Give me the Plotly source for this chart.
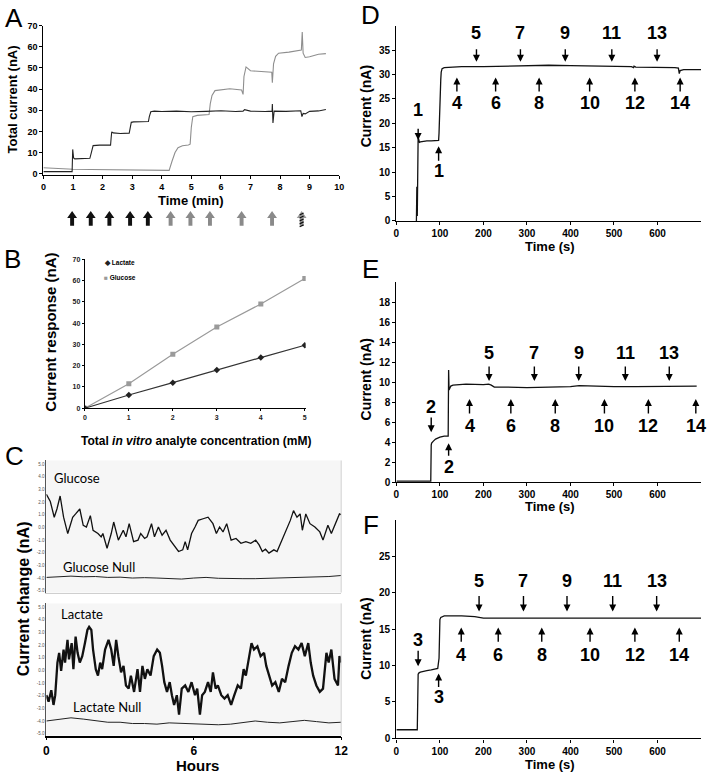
import plotly.graph_objects as go

W, H = 711, 778
def X(px): return px / W
def Y(py): return 1 - py / H

ARIAL = "Liberation Sans, Arial"
BLACK = "#111111"
GRAY = "#8e8e8e"

# ---------------- Panel A data ----------------
a_lac_t = [0, 0.5, 0.97, 0.99, 1.0, 1.02, 1.06, 1.2, 1.4, 1.57, 1.62, 1.68, 1.9, 2.1, 2.27, 2.29, 2.31, 2.36, 2.6, 2.9, 2.93, 2.97, 3.05, 3.3, 3.55, 3.58, 3.63, 3.75, 4.0, 4.5, 5.0, 5.5, 6.0, 6.5, 6.75, 6.8, 7.0, 7.5, 7.73, 7.74, 7.76, 7.8, 8.2, 8.7, 8.74, 8.78, 8.85, 9.0, 9.3, 9.55]
a_lac_v = [1.0, 1.0, 1.0, 11.5, 9, 7.5, 7.0, 7.0, 7.2, 7.3, 10, 13.3, 13.5, 13.4, 13.5, 17, 19.8, 19.3, 19.0, 19.2, 22, 24.3, 24.5, 24.6, 24.7, 27, 29.3, 29.6, 29.4, 29.6, 29.3, 29.5, 29.8, 29.4, 29.6, 30.3, 29.6, 29.4, 29.6, 33, 24, 29.6, 29.5, 29.8, 27, 28.5, 28.3, 29.5, 29.7, 30.4]
a_glu_t = [0, 0.5, 1.0, 1.6, 2.0, 2.3, 2.9, 3.5, 4.0, 4.25, 4.35, 4.45, 4.55, 4.7, 4.9, 4.96, 5.0, 5.05, 5.2, 5.6, 5.64, 5.7, 5.8, 6.0, 6.3, 6.7, 6.75, 6.78, 6.85, 7.0, 7.4, 7.72, 7.74, 7.78, 7.85, 7.95, 8.3, 8.6, 8.72, 8.75, 8.78, 8.85, 9.0, 9.3, 9.55]
a_glu_v = [2.8, 2.3, 2.1, 2.0, 1.9, 1.9, 1.8, 1.7, 1.6, 1.6, 6, 10, 12.3, 13.2, 13.6, 14, 22, 27, 27.6, 28, 33, 37, 39.3, 39.6, 40.2, 39.6, 37.5, 46, 50.5, 48.7, 48.4, 48, 43, 52, 55.5, 57, 57.5, 58, 58.5, 67, 57, 55, 55.3, 56.5, 56.8]
a_arrow_t = [0.97, 1.6, 2.23, 2.93, 3.53, 4.3, 4.97, 5.63, 6.7, 7.73, 8.73]
a_arrow_kind = ["lac", "lac", "lac", "lac", "lac", "glu", "glu", "glu", "glu", "glu", "mix"]

# ---------------- Panel B data ----------------
b_conc = [0, 1, 2, 3, 4, 5]
b_lactate = [0, 6.2, 12.0, 18.0, 23.8, 29.6]
b_glucose = [0, 11.5, 25.4, 38.2, 49.0, 61.0]

# ---------------- Panel C data ----------------
c_glu_t = [0, 0.16, 0.32, 0.43, 0.56, 0.7, 0.87, 1.07, 1.19, 1.36, 1.5, 1.63, 1.79, 1.9, 2.1, 2.23, 2.3, 2.47, 2.64, 2.74, 2.93, 3.13, 3.24, 3.37, 3.55, 3.73, 3.84, 4.0, 4.1, 4.28, 4.4, 4.56, 4.71, 4.87, 5.04, 5.18, 5.38, 5.55, 5.65, 5.75, 5.91, 6.05, 6.18, 6.38, 6.58, 6.78, 6.92, 7.05, 7.19, 7.34, 7.52, 7.72, 7.92, 8.12, 8.32, 8.52, 8.66, 8.79, 8.92, 9.06, 9.26, 9.39, 9.59, 9.79, 9.93, 10.06, 10.2, 10.33, 10.42, 10.56, 10.73, 10.93, 11.13, 11.26, 11.46, 11.6, 11.8, 11.93, 12.0]
c_glu_v = [2.62, 2.05, 0.81, 1.46, 2.49, 0.81, -0.48, 0.81, 1.07, 1.46, 0.17, 0.04, 0.94, -0.22, -0.48, -0.74, -0.48, -1.64, -0.48, 0.43, -1.0, -0.22, -0.74, 0.3, -1.12, -1.0, -0.48, -0.87, -0.74, 0.3, -0.74, 0.04, -0.61, -0.22, -1.0, -1.38, -1.9, -1.77, -1.12, -1.77, -0.48, 0.04, 0.56, 0.69, 0.81, 0.3, -0.48, 0.04, -0.35, 0.3, -1.0, -0.87, -1.25, -1.12, -1.25, -1.0, -1.38, -1.9, -1.72, -2.03, -1.77, -1.9, -1.0, -0.22, 0.56, 1.33, 0.81, 1.07, -0.22, 1.07, 0.3, 0.04, -0.35, -1.0, 0.17, -0.48, 0.56, 1.07, 1.02]
c_null_t = [0, 0.5, 1, 1.5, 2, 2.5, 3, 3.5, 4, 4.5, 5, 5.5, 6, 6.5, 7, 7.5, 8, 8.5, 9, 9.5, 10, 10.5, 11, 11.5, 12]
c_glu_null = [-3.95, -3.9, -3.85, -3.9, -3.88, -3.95, -3.93, -4.0, -3.97, -4.0, -4.05, -4.08, -4.0, -3.95, -4.02, -4.05, -4.05, -4.05, -4.02, -4.0, -3.95, -3.9, -3.92, -3.88, -3.8]
c_lac_t = [0, 0.09, 0.2, 0.29, 0.36, 0.45, 0.52, 0.6, 0.7, 0.76, 0.86, 0.92, 1.03, 1.1, 1.19, 1.27, 1.36, 1.46, 1.57, 1.67, 1.74, 1.83, 1.9, 2.01, 2.1, 2.19, 2.27, 2.39, 2.53, 2.64, 2.74, 2.84, 2.93, 3.04, 3.14, 3.24, 3.35, 3.44, 3.57, 3.71, 3.81, 3.91, 4.01, 4.11, 4.24, 4.37, 4.51, 4.62, 4.71, 4.8, 4.91, 5.02, 5.11, 5.2, 5.31, 5.4, 5.51, 5.65, 5.78, 5.91, 6.05, 6.14, 6.25, 6.34, 6.45, 6.58, 6.69, 6.78, 6.89, 6.98, 7.12, 7.25, 7.38, 7.52, 7.65, 7.79, 7.92, 8.03, 8.12, 8.26, 8.35, 8.45, 8.59, 8.72, 8.86, 8.95, 9.06, 9.19, 9.32, 9.46, 9.59, 9.72, 9.86, 9.99, 10.12, 10.26, 10.39, 10.52, 10.66, 10.76, 10.86, 10.99, 11.13, 11.26, 11.4, 11.49, 11.6, 11.73, 11.87, 11.93, 12.0]
c_lac_v = [-1.96, -2.47, -1.57, -2.73, -1.96, 0.62, 1.39, -0.03, 1.65, 0.62, 2.42, 0.88, 2.16, 0.1, 2.68, 1.39, 0.62, 1.13, 2.16, 3.2, 3.45, 3.2, 1.65, 0.1, -0.41, 0.62, 0.1, 1.65, 2.42, 1.65, 0.36, 2.42, 1.13, -0.15, 0.36, -1.19, -1.44, -0.41, -1.7, 0.1, -1.7, 0.36, -0.67, 0.1, -0.41, 1.13, 1.65, 1.39, 0.36, -0.93, -1.7, -0.93, -1.96, -2.73, -1.96, -3.5, -1.44, -1.19, -1.7, -0.93, -1.96, -1.44, -3.5, -1.96, -1.7, -0.93, -1.7, -0.15, -1.44, -1.19, -1.96, -2.22, -1.96, -2.73, -1.96, -1.19, -1.44, 0.1, -0.41, 1.39, 2.16, 1.65, 1.91, 1.13, 1.39, 0.36, -0.41, -1.19, -0.93, -1.7, -0.67, -0.93, 0.36, 1.39, 1.91, 1.65, 2.16, 1.13, 2.16, 0.62, -0.41, -1.19, -1.7, -1.44, 1.39, 0.62, 1.65, -0.67, -1.19, 1.13, 0.62]
c_lac_null = [-4.0, -3.85, -3.75, -3.85, -3.95, -4.1, -4.1, -4.2, -4.2, -4.25, -4.15, -4.2, -4.25, -4.3, -4.3, -4.25, -4.1, -4.0, -4.1, -4.15, -4.05, -3.95, -4.05, -4.15, -4.1]
c_ticks = [5, 4, 3, 2, 1, 0, -1, -2, -3, -4, -5]

# ---------------- Panels D, E, F data ----------------
d_t = [46, 47, 48, 49, 50, 51, 52, 53, 55, 60, 70, 80, 90, 97, 98, 99, 100, 101, 102, 103, 105, 110, 130, 150, 200, 250, 300, 350, 400, 450, 500, 540, 545, 546, 550, 600, 640, 648, 650, 652, 660, 680, 700]
d_v = [0, 7, 1, 14, 17.5, 16.8, 16.2, 16.1, 16.2, 16.3, 16.4, 16.4, 16.5, 16.5, 18, 22, 27, 25, 29, 30.5, 31.2, 31.4, 31.5, 31.6, 31.6, 31.7, 31.7, 31.9, 31.8, 31.7, 31.7, 31.6, 31.4, 31.7, 31.5, 31.5, 31.4, 31.3, 30.2, 30.8, 31.0, 31.0, 31.0]
e_t = [0, 79, 80, 81, 85, 90, 100, 110, 119, 120, 121, 123, 125, 130, 140, 160, 200, 212, 218, 225, 250, 300, 350, 400, 420, 450, 500, 550, 600, 650, 690]
e_v = [0.1, 0.1, 3.7, 3.9, 4.1, 4.3, 4.5, 4.6, 4.6, 11.2, 9.2, 9.4, 9.6, 9.7, 9.75, 9.8, 9.75, 9.8, 9.7, 9.5, 9.5, 9.45, 9.5, 9.55, 9.65, 9.6, 9.55, 9.55, 9.55, 9.6, 9.6]
f_t = [0, 48, 50, 52, 55, 60, 70, 80, 95, 98, 100, 102, 105, 110, 150, 180, 200, 250, 300, 350, 400, 500, 600, 700]
f_v = [1.2, 1.2, 8.8, 9.0, 9.1, 9.2, 9.3, 9.4, 9.6, 11, 16.3, 16.6, 16.7, 16.8, 16.8, 16.7, 16.5, 16.5, 16.45, 16.4, 16.45, 16.4, 16.5, 16.5]

# addition markers: numbers and times (s)
top_nums = [5, 7, 9, 11, 13]
bot_nums = [4, 6, 8, 10, 12, 14]
d_top_t = [184, 285, 388, 495, 599]
d_bot_t = [139, 228, 328, 444, 548, 652]
e_top_t = [213, 317, 419, 526, 627]
e_bot_t = [168, 263, 365, 478, 579, 688]
f_top_t = [190, 292, 392, 497, 598]
f_bot_t = [149, 234, 334, 445, 548, 650]
d_first = (1, 50, 97)
e_first = (2, 80, 120)
f_first = (3, 50, 97)

fig = go.Figure()

def ax_common(**kw):
    base = dict(showgrid=False, zeroline=False, showline=True, linecolor="black",
                linewidth=1.4, ticks="outside", ticklen=3, tickwidth=1, tickcolor="black")
    base.update(kw)
    return base

# ---------- A ----------
A_dom = (41, 341); A_rng = (0, 10)
fig.add_trace(go.Scatter(x=a_glu_t, y=a_glu_v, mode="lines", line=dict(color=GRAY, width=1.1),
                         xaxis="x", yaxis="y", showlegend=False))
fig.add_trace(go.Scatter(x=a_lac_t, y=a_lac_v, mode="lines", line=dict(color="#222", width=1.1),
                         xaxis="x", yaxis="y", showlegend=False))
tickA = dict(family=ARIAL, size=9, color="black", weight="bold")
lay = dict(
    xaxis=ax_common(domain=[X(A_dom[0]), X(A_dom[1])], range=list(A_rng), tickvals=list(range(0, 11)),
                    tickfont=tickA, anchor="y"),
    yaxis=ax_common(domain=[Y(172), Y(21)], range=[-0.4, 70], tickvals=list(range(0, 71, 10)),
                    tickfont=tickA, anchor="x"),
)

# ---------- B ----------
fig.add_trace(go.Scatter(x=b_conc, y=b_glucose, mode="lines+markers",
                         line=dict(color="#9a9a9a", width=1.2),
                         marker=dict(symbol="square", size=5, color="#9a9a9a"),
                         xaxis="x2", yaxis="y2", showlegend=False))
fig.add_trace(go.Scatter(x=b_conc, y=b_lactate, mode="lines+markers",
                         line=dict(color="#333", width=1.2),
                         marker=dict(symbol="diamond", size=5, color="#222"),
                         xaxis="x2", yaxis="y2", showlegend=False))
tickB = dict(family=ARIAL, size=7, color="#222", weight="bold")
lay.update(
    xaxis2=ax_common(domain=[X(83), X(307)], range=[0, 5.02], tickvals=b_conc, tickfont=tickB,
                     anchor="y2", linewidth=1.2, ticklen=2),
    yaxis2=ax_common(domain=[Y(409), Y(258)], range=[0, 70], tickvals=list(range(0, 71, 10)),
                     tickfont=tickB, anchor="x2", linewidth=1.2, ticklen=2),
)

# ---------- C ----------
tickC = dict(family=ARIAL, size=4.5, color="#555")
c_ticktext = ["%.1f" % v for v in c_ticks]
for xa, ya, gv, nv, lw in [("x3", "y3", c_glu_v, c_glu_null, 1.3),
                           ("x4", "y4", c_lac_v, c_lac_null, 2.3)]:
    tt = c_glu_t if xa == "x3" else c_lac_t
    fig.add_trace(go.Scatter(x=tt, y=gv, mode="lines", line=dict(color=BLACK, width=lw),
                             xaxis=xa, yaxis=ya, showlegend=False))
    fig.add_trace(go.Scatter(x=c_null_t, y=nv, mode="lines", line=dict(color="#222", width=1.0),
                             xaxis=xa, yaxis=ya, showlegend=False))
lay.update(
    xaxis3=dict(domain=[X(44), X(343)], range=[0, 12], showticklabels=False, showgrid=False,
                zeroline=False, showline=True, linecolor="#cfcfcf", linewidth=1, ticks="", anchor="y3"),
    yaxis3=dict(domain=[Y(596), Y(462)], range=[-5.15, 5.3], tickvals=c_ticks, ticktext=c_ticktext,
                tickfont=tickC, showgrid=False, zeroline=False, showline=True, linecolor="#555",
                linewidth=1, ticks="", anchor="x3"),
    xaxis4=ax_common(domain=[X(44), X(343)], range=[0, 12], tickvals=[0, 6, 12],
                     tickfont=dict(family=ARIAL, size=12, color="black", weight="bold"),
                     anchor="y4", linewidth=1.6, ticklen=3),
    yaxis4=dict(domain=[Y(741), Y(607)], range=[-5.15, 5.3], tickvals=c_ticks, ticktext=c_ticktext,
                tickfont=tickC, showgrid=False, zeroline=False, showline=True, linecolor="#555",
                linewidth=1, ticks="", anchor="x4"),
)

# ---------- D, E, F ----------
tickDEF = dict(family=ARIAL, size=10, color="black", weight="bold")
panels = [
    ("x5", "y5", (219, 21), 40, list(range(0, 36, 5)), d_t, d_v),
    ("x6", "y6", (484, 281), 20, list(range(0, 19, 2)), e_t, e_v),
    ("x7", "y7", (744, 522), 30, list(range(0, 26, 5)), f_t, f_v),
]
for xa, ya, dom, ymax, yt, tt, vv in panels:
    fig.add_trace(go.Scatter(x=tt, y=vv, mode="lines", line=dict(color=BLACK, width=1.3),
                             xaxis=xa, yaxis=ya, showlegend=False))
    n = xa[1:]
    lay["xaxis" + n] = ax_common(domain=[X(399), X(708)], range=[0, 700], tickvals=list(range(0, 601, 100)),
                                 tickfont=tickDEF, anchor=ya)
    lay["yaxis" + n] = ax_common(domain=[Y(dom[0]), Y(dom[1])], range=[0, ymax], tickvals=yt,
                                 tickfont=tickDEF, anchor=xa)

annotations = []
shapes = []

def txt(x, y, s, size, bold=True, angle=0, family=ARIAL, xref="paper", yref="paper", color="black",
        xanchor="center", yanchor="middle"):
    annotations.append(dict(x=x, y=y, xref=xref, yref=yref, text=s, showarrow=False, textangle=angle,
                            font=dict(family=family, size=size, color=color,
                                      weight="bold" if bold else "normal"),
                            xanchor=xanchor, yanchor=yanchor))

# panel letters
for L, px, py in [("A", 11, 13), ("B", 10, 258), ("C", 12, 457), ("D", 373, 10), ("E", 373, 268), ("F", 373, 527)]:
    txt(X(px), Y(py), L, 26, bold=False)

# axis titles
txt(X(10), Y(96), "Total current (nA)", 13, angle=-90)
txt(X(191), Y(198), "Time (min)", 13)
txt(X(48), Y(332), "Current response (nA)", 15, angle=-90)
txt(X(196), Y(442), "Total <i>in vitro</i> analyte concentration (mM)", 12)
txt(X(21), Y(602), "Current change (nA)", 16, angle=-90)
txt(X(197), Y(771), "Hours", 15)
for py in (103, 380, 643):
    txt(X(368), Y(py), "Current (nA)", 14, angle=-90)
for py in (245, 509, 770):
    txt(X(555), Y(py), "Time (s)", 13)

# B legend
txt(X(100), Y(262), "<span style='color:#222'>◆</span> Lactate", 6.5, xanchor="left")
txt(X(100), Y(276), "<span style='color:#9a9a9a'>■</span> Glucose", 6.5, xanchor="left")

# C trace labels
LATO = "Lato, Open Sans"
txt(X(50), Y(480), "Glucose", 13, bold=False, family=LATO, xanchor="left")
txt(X(59), Y(570), "Glucose Null", 13, bold=False, family=LATO, xanchor="left")
txt(X(57), Y(618), "Lactate", 13, bold=False, family=LATO, xanchor="left")
txt(X(69), Y(712), "Lactate Null", 13, bold=False, family=LATO, xanchor="left")

# C backgrounds and borders
for xa, ya in [("x3", "y3"), ("x4", "y4")]:
    shapes.append(dict(type="rect", xref=xa + " domain", yref=ya + " domain", x0=0, x1=1, y0=0, y1=1,
                       fillcolor="#f6f6f6", line=dict(width=0), layer="below"))
    shapes.append(dict(type="line", xref=xa + " domain", yref=ya + " domain", x0=1, x1=1, y0=0, y1=1,
                       line=dict(color="#d0d0d0", width=1)))

# A addition arrows (thick block arrows below the axis)
ppu = (A_dom[1] - A_dom[0]) / (A_rng[1] - A_rng[0])  # pixels per minute
hw, sw = 5 / ppu, 2 / ppu
ytip, yhead, ybot = Y(209), Y(216), Y(224)
for t, kind in zip(a_arrow_t, a_arrow_kind):
    path = (f"M {t},{ytip} L {t+hw},{yhead} L {t+sw},{yhead} L {t+sw},{ybot} "
            f"L {t-sw},{ybot} L {t-sw},{yhead} L {t-hw},{yhead} Z")
    fill = {"lac": "#111111", "glu": "#8a8a8a", "mix": "#9a9a9a"}[kind]
    shapes.append(dict(type="path", xref="x", yref="paper", path=path, fillcolor=fill,
                       line=dict(width=0)))
    if kind == "mix":
        seg = ""
        for py in (211, 214, 217, 220, 223):
            seg += f"M {t-sw},{Y(py + 2)} L {t+sw},{Y(py)} "
        shapes.append(dict(type="path", xref="x", yref="paper", path=seg,
                           line=dict(color="#111", width=1.2)))

# D/E/F numbered addition arrows: label/arrow levels in nA per panel
levels = {
    # top label, top tail, top tip, bottom tip, bottom tail, bottom label,
    # first-down label, first-down tail, first-down tip, first-up tip, first-up tail, first-up label
    "5": (38.6, 35.3, 32.6, 29.4, 26.4, 24.1, 22.8, 19.0, 16.6, 15.3, 12.2, 10.3),
    "6": (12.9, 11.6, 10.1, 8.3, 6.8, 5.64, 7.5, 6.5, 5.0, 3.9, 2.6, 1.54),
    "7": (21.6, 19.6, 17.4, 15.2, 13.2, 11.5, 13.5, 12.1, 9.9, 8.9, 7.0, 5.70),
}
def arrow(xa, ya, x, tail, tip):
    annotations.append(dict(xref=xa, yref=ya, x=x, y=tip, axref=xa, ayref=ya, ax=x, ay=tail,
                            text="", font=dict(size=1), borderpad=0,
                            showarrow=True, arrowhead=2, arrowsize=1, arrowwidth=1.4,
                            arrowcolor="black"))
numfont = 18
for (xa, ya, *_), tops, bots, first in zip(panels, [d_top_t, e_top_t, f_top_t],
                                           [d_bot_t, e_bot_t, f_bot_t], [d_first, e_first, f_first]):
    lv = levels[xa[1:]]
    for n_, t in zip(top_nums, tops):
        txt(t, lv[0], str(n_), numfont, xref=xa, yref=ya)
        arrow(xa, ya, t, lv[1], lv[2])
    for n_, t in zip(bot_nums, bots):
        txt(t, lv[5], str(n_), numfont, xref=xa, yref=ya)
        arrow(xa, ya, t, lv[4], lv[3])
    num, tdown, tup = first
    txt(tdown, lv[6], str(num), numfont, xref=xa, yref=ya)
    arrow(xa, ya, tdown, lv[7], lv[8])
    txt(tup, lv[11], str(num), numfont, xref=xa, yref=ya)
    arrow(xa, ya, tup, lv[10], lv[9])

fig.update_layout(**lay)
fig.update_layout(width=W, height=H, autosize=False, margin=dict(l=0, r=0, t=0, b=0),
                  paper_bgcolor="white", plot_bgcolor="rgba(0,0,0,0)",
                  annotations=annotations, shapes=shapes, showlegend=False,
                  font=dict(family=ARIAL))
fig.write_html("out.html", config={"displayModeBar": False},
               post_script="document.body.style.margin='0px';")
